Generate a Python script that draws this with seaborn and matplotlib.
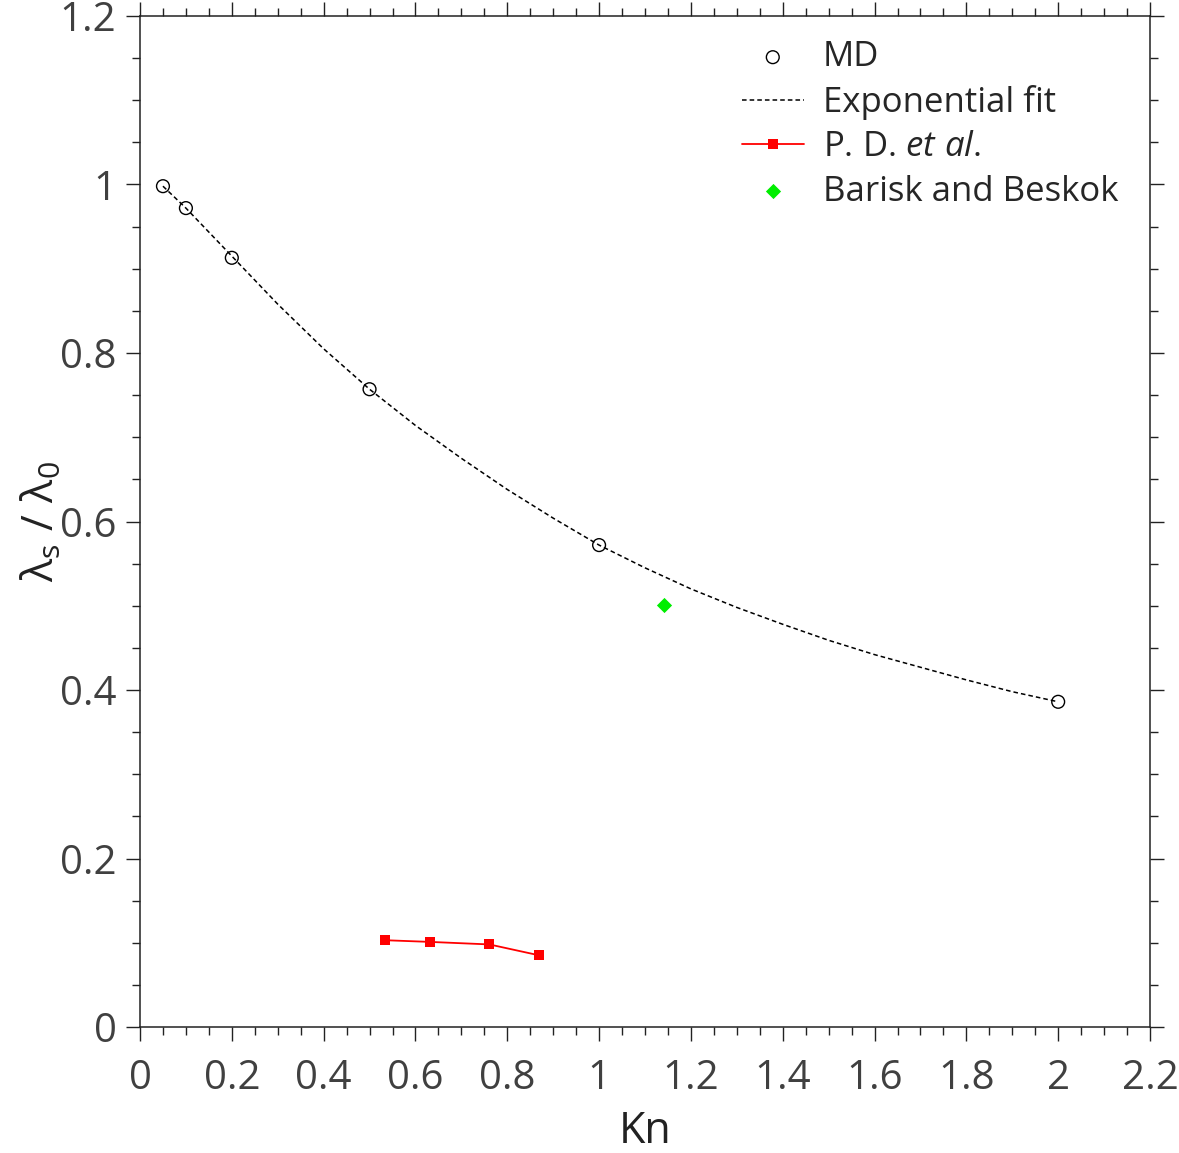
import numpy as np
import pandas as pd
import matplotlib
matplotlib.use('Agg')
import matplotlib.pyplot as plt
from matplotlib.ticker import MultipleLocator, AutoMinorLocator
import seaborn as sns

# MD data points
md_kn = [0.05, 0.10, 0.20, 0.50, 1.00, 2.00]
md_ratio = [0.998, 0.972, 0.913, 0.757, 0.572, 0.386]

# exponential fit curve
fit_kn = [0.05, 0.1, 0.2, 0.3, 0.4, 0.5, 0.6, 0.7, 0.8, 0.9, 1.0,
          1.1, 1.2, 1.3, 1.4, 1.5, 1.6, 1.7, 1.8, 1.9, 2.0]
fit_ratio = [0.998, 0.972, 0.915, 0.858, 0.805, 0.757, 0.714, 0.675, 0.638, 0.604, 0.572,
             0.545, 0.520, 0.498, 0.478, 0.459, 0.442, 0.427, 0.412, 0.398, 0.386]

# P. D. et al.
pd_kn = [0.534, 0.632, 0.761, 0.870]
pd_ratio = [0.103, 0.101, 0.098, 0.085]

# Barisk and Beskok
bb_kn = [1.141]
bb_ratio = [0.501]

sns.set_theme(style='ticks')
plt.rcParams['font.family'] = ['Open Sans', 'DejaVu Sans']
plt.rcParams['mathtext.fontset'] = 'custom'
plt.rcParams['mathtext.rm'] = 'Open Sans'
plt.rcParams['mathtext.it'] = 'Open Sans:italic'

fig = plt.figure(figsize=(11.79, 11.53), dpi=100)
ax = fig.add_axes([140 / 1179, 126 / 1153, 1010 / 1179, 1011 / 1153])

sns.lineplot(x=fit_kn, y=fit_ratio, ax=ax, color='black', lw=1.1, sort=False,
             dashes=False, label='Exponential fit')
ax.lines[-1].set_dashes((3, 2))

sns.scatterplot(x=md_kn, y=md_ratio, ax=ax, marker='o', s=85,
                facecolor='none', edgecolor='black', linewidth=1.0,
                label='MD', zorder=3)

sns.lineplot(x=pd_kn, y=pd_ratio, ax=ax, color='red', lw=1.3, marker='s',
             markersize=7, markeredgewidth=0, label=r'P. D. $\mathit{et\ al.}$')

sns.scatterplot(x=bb_kn, y=bb_ratio, ax=ax, marker='D', s=60, color='#00ee00',
                linewidth=0, label='Barisk and Beskok')

ax.set_xlim(0, 2.2)
ax.set_ylim(0, 1.2)
ax.xaxis.set_major_locator(MultipleLocator(0.2))
ax.yaxis.set_major_locator(MultipleLocator(0.2))
ax.xaxis.set_minor_locator(AutoMinorLocator(4))
ax.yaxis.set_minor_locator(AutoMinorLocator(4))
ax.xaxis.set_major_formatter(plt.FuncFormatter(lambda v, p: f'{v:g}'))
ax.yaxis.set_major_formatter(plt.FuncFormatter(lambda v, p: f'{v:g}'))

ax.tick_params(which='both', direction='out', top=True, right=True,
               color='#222222')
ax.tick_params(which='major', length=10, width=1.0, labelsize=29,
               labelcolor='#404040', pad=7)
ax.tick_params(axis='x', which='major', pad=13)
ax.tick_params(which='minor', length=5.5, width=1.0)
for s in ax.spines.values():
    s.set_linewidth(1.1)
    s.set_color('#222222')

ax.set_xlabel('Kn', fontsize=31, color='#222222', labelpad=7)
ax.set_ylabel(r'$\mathregular{\lambda_s\ /\ \lambda_0}$', fontsize=31,
              color='#222222', labelpad=-4)

handles, labels = ax.get_legend_handles_labels()
order = ['MD', 'Exponential fit', r'P. D. $\mathit{et\ al.}$', 'Barisk and Beskok']
hmap = dict(zip(labels, handles))
ax.legend([hmap[l] for l in order], order, loc='upper right', frameon=False,
          bbox_to_anchor=(0.993, 1.0),
          fontsize=25, labelspacing=0.3, handlelength=1.8, handletextpad=0.55,
          borderaxespad=0.3)

fig.savefig('out.png', dpi=100)
